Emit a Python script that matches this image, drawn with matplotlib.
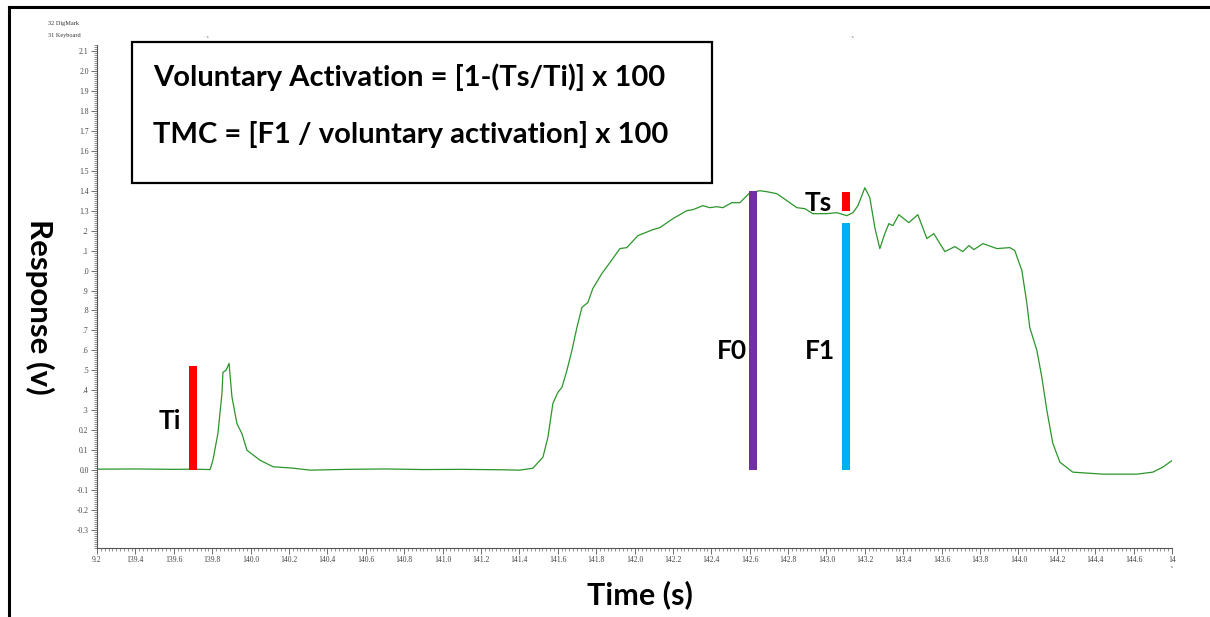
import numpy as np
import matplotlib.pyplot as plt
from matplotlib.patches import Rectangle
from matplotlib.lines import Line2D
from matplotlib.ticker import MultipleLocator
import matplotlib.transforms as mtransforms

# force trace (channel 1), read from the Spike2 export
time_s = [139.20, 139.40, 139.60, 139.70, 139.789, 139.804, 139.830, 139.851, 139.856,
          139.872, 139.888, 139.903, 139.929, 139.955, 139.981, 140.049, 140.117,
          140.221, 140.31, 140.50, 140.70, 140.90, 141.10, 141.30, 141.403,
          141.471, 141.523, 141.549, 141.575, 141.601, 141.622, 141.648, 141.674,
          141.700, 141.726, 141.757, 141.783, 141.830, 141.872, 141.924, 141.960,
          142.018, 142.096, 142.132, 142.200, 142.273, 142.304, 142.356, 142.393,
          142.429, 142.460, 142.507, 142.549, 142.601, 142.653, 142.690, 142.742,
          142.794, 142.846, 142.888, 142.929, 143.002, 143.054, 143.106, 143.138,
          143.164, 143.200, 143.226, 143.252, 143.278, 143.304, 143.325, 143.346,
          143.377, 143.429, 143.476, 143.523, 143.559, 143.617, 143.669, 143.710,
          143.742, 143.768, 143.815, 143.888, 143.955, 143.981, 144.018, 144.044,
          144.059, 144.096, 144.122, 144.148, 144.179, 144.216, 144.283, 144.440,
          144.617, 144.700, 144.752, 144.80]
response_v = [0.005, 0.006, 0.004, 0.005, 0.003, 0.05, 0.185, 0.385, 0.49,
              0.50, 0.535, 0.367, 0.233, 0.183, 0.10, 0.05, 0.017,
              0.01, 0.0, 0.004, 0.006, 0.003, 0.004, 0.002, 0.0,
              0.01, 0.065, 0.165, 0.335, 0.39, 0.415, 0.50, 0.60,
              0.715, 0.815, 0.84, 0.91, 0.985, 1.04, 1.11, 1.115,
              1.175, 1.205, 1.215, 1.26, 1.30, 1.305, 1.325, 1.315,
              1.32, 1.315, 1.34, 1.34, 1.39, 1.40, 1.395, 1.385,
              1.35, 1.315, 1.31, 1.285, 1.285, 1.29, 1.275, 1.29,
              1.325, 1.415, 1.365, 1.215, 1.11, 1.185, 1.235, 1.225,
              1.28, 1.24, 1.28, 1.16, 1.185, 1.095, 1.12, 1.095,
              1.125, 1.105, 1.135, 1.11, 1.115, 1.10, 1.0, 0.835,
              0.715, 0.60, 0.465, 0.30, 0.135, 0.04, -0.01, -0.02,
              -0.02, -0.01, 0.015, 0.048]

# markers: (label, time, bottom, top, colour)
mark_names = ['Ti', 'F0', 'F1', 'Ts']
mark_time = [139.70, 142.617, 143.10, 143.10]
mark_bottom = [0.0, 0.0, 0.0, 1.30]
mark_top = [0.52, 1.40, 1.24, 1.395]
mark_colors = ['#FF0000', '#7030A0', '#00B0F0', '#FF0000']
mark_label_xy = [(139.58, 0.245), (142.507, 0.595), (142.966, 0.595), (142.955, 1.34)]

# keyboard channel events
key_times = [139.77, 143.13]

xtick_vals = [139.2, 139.4, 139.6, 139.8, 140.0, 140.2, 140.4, 140.6, 140.8, 141.0,
              141.2, 141.4, 141.6, 141.8, 142.0, 142.2, 142.4, 142.6, 142.8, 143.0,
              143.2, 143.4, 143.6, 143.8, 144.0, 144.2, 144.4, 144.6, 144.8]
xtick_labels = ['9.2', '139.4', '139.6', '139.8', '140.0', '140.2', '140.4', '140.6',
                '140.8', '141.0', '141.2', '141.4', '141.6', '141.8', '142.0', '142.2',
                '142.4', '142.6', '142.8', '143.0', '143.2', '143.4', '143.6', '143.8',
                '144.0', '144.2', '144.4', '144.6', '14']
ytick_vals = [-0.3, -0.2, -0.1, 0.0, 0.1, 0.2, 0.3, 0.4, 0.5, 0.6, 0.7, 0.8, 0.9,
              1.0, 1.1, 1.2, 1.3, 1.4, 1.5, 1.6, 1.7, 1.8, 1.9, 2.0, 2.1]
ytick_labels = ['-0.3', '-0.2', '-0.1', '0.0', '0.1', '0.2', '.3', '.4', '.5', '.6',
                '.7', '.8', '.9', '.0', '.1', '.2', '1.3', '1.4', '1.5', '1.6', '1.7',
                '1.8', '1.9', '2.0', '2.1']

W, H = 1210, 617
fig = plt.figure(figsize=(W / 100, H / 100), dpi=100)
ax = fig.add_axes([97 / W, 1 - 548 / H, (1172 - 97) / W, (548 - 45) / H])

ax.plot(time_s, response_v, color='#2a962a', lw=0.9)

for i in range(len(mark_names)):
    ax.bar(mark_time[i], mark_top[i] - mark_bottom[i], bottom=mark_bottom[i],
           width=0.042, color=mark_colors[i], zorder=3)
    ax.text(mark_label_xy[i][0], mark_label_xy[i][1], mark_names[i],
            fontsize=19, fontweight='bold', family='Lato',
            ha='center', va='center')

ax.set_xlim(139.2, 144.8)
ax.set_ylim(-0.39, 2.13)
ax.spines['top'].set_visible(False)
ax.spines['right'].set_visible(False)
for s in ['left', 'bottom']:
    ax.spines[s].set_color('#555555')
    ax.spines[s].set_linewidth(0.8)

ax.set_xticks(xtick_vals)
ax.set_xticklabels(xtick_labels)
ax.set_yticks(ytick_vals)
ax.set_yticklabels(ytick_labels)
ax.xaxis.set_minor_locator(MultipleLocator(0.02))
ax.yaxis.set_minor_locator(MultipleLocator(0.01))
ax.tick_params(which='major', length=4, width=0.6, color='#555555',
               labelsize=5.5, labelcolor='#444444', pad=2)
ax.tick_params(which='minor', length=2, width=0.5, color='#666666')
for lab in ax.get_xticklabels() + ax.get_yticklabels():
    lab.set_family('Liberation Serif')

# channel names, keyboard events and time unit
fig.text(48 / W, 1 - 24 / H, '32 DigMark', fontsize=4.5, family='Liberation Serif',
         color='#333333', va='center')
fig.text(48 / W, 1 - 35 / H, '31 Keyboard', fontsize=4.5, family='Liberation Serif',
         color='#333333', va='center')
trans = mtransforms.blended_transform_factory(ax.transData, fig.transFigure)
for t in key_times:
    fig.text(t, 1 - 37 / H, '· s', fontsize=3, color='#666666', transform=trans,
             ha='center', va='center')
fig.text(1172 / W, 1 - 567 / H, 's', fontsize=3.5, family='Liberation Serif',
         color='#444444', ha='center', va='center')

# axis titles
fig.text(40 / W, 1 - 307 / H, 'Response (v)', rotation=-90, fontsize=22.5,
         fontweight='bold', family='Lato', ha='center', va='center')
fig.text(640 / W, 1 - 595 / H, 'Time (s)', fontsize=22, fontweight='bold',
         family='Lato', ha='center', va='center')

# formula box
fig.add_artist(Rectangle((132 / W, 1 - 183 / H), (712 - 132) / W, (183 - 42) / H,
                         transform=fig.transFigure, fill=False, ec='black', lw=1.6))
fig.text(153 / W, 1 - 77 / H, 'Voluntary Activation = [1-(Ts/Ti)] x 100', fontsize=21,
         fontweight='bold', family='Lato', va='center')
fig.text(153 / W, 1 - 134 / H, 'TMC = [F1 / voluntary activation] x 100', fontsize=21,
         fontweight='bold', family='Lato', va='center')

# outer frame (left and top edges)
fig.add_artist(Line2D([8.5 / W, 8.5 / W], [0, 1 - 6.5 / H], transform=fig.transFigure,
                      color='black', lw=2.2))
fig.add_artist(Line2D([8.5 / W, 1], [1 - 6.5 / H, 1 - 6.5 / H], transform=fig.transFigure,
                      color='black', lw=2.2))

fig.savefig('out.png', dpi=100)
